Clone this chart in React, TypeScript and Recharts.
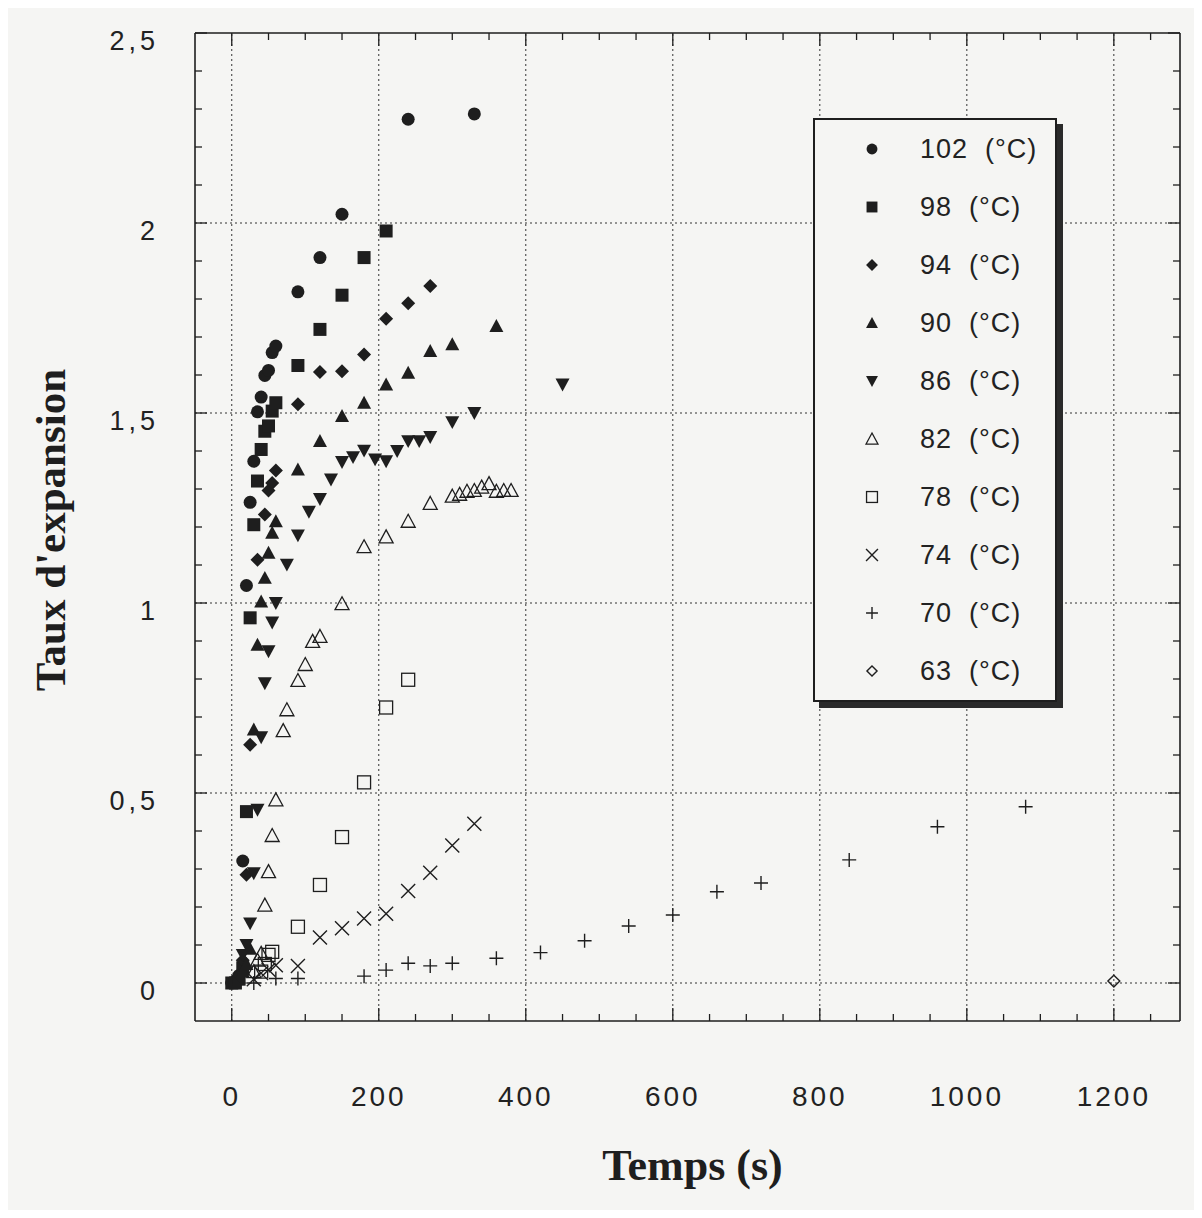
import { ScatterChart, Scatter, XAxis, YAxis, ReferenceLine, Legend, Label } from "recharts";

// Temps (s) and taux d'expansion for each temperature (°C)
const t102 = [0, 5, 10, 15, 20, 25, 30, 35, 40, 45, 50, 55, 60, 90, 120, 150, 240, 330];
const y102 = [0, 0.005, 0.02, 0.321, 1.046, 1.265, 1.373, 1.503, 1.542, 1.599, 1.612, 1.659, 1.676, 1.819, 1.909, 2.023, 2.273, 2.287];

const t98 = [0, 5, 10, 15, 20, 25, 30, 35, 40, 45, 50, 55, 60, 90, 120, 150, 180, 210];
const y98 = [0, 0, 0.01, 0.04, 0.451, 0.961, 1.206, 1.321, 1.404, 1.452, 1.466, 1.505, 1.527, 1.625, 1.72, 1.81, 1.909, 1.979];

const t94 = [10, 15, 20, 25, 35, 45, 50, 55, 60, 90, 120, 150, 180, 210, 240, 270];
const y94 = [0.02, 0.06, 0.285, 0.627, 1.114, 1.233, 1.296, 1.316, 1.349, 1.523, 1.608, 1.61, 1.654, 1.748, 1.789, 1.834];

const t90 = [15, 20, 25, 30, 35, 40, 45, 50, 55, 60, 90, 120, 150, 180, 210, 240, 270, 300, 360];
const y90 = [0.03, 0.05, 0.09, 0.667, 0.89, 1.004, 1.066, 1.132, 1.185, 1.215, 1.351, 1.426, 1.492, 1.527, 1.575, 1.606, 1.663, 1.681, 1.729];

const t86 = [15, 20, 25, 30, 35, 40, 45, 50, 55, 60, 75, 90, 105, 120, 135, 150, 165, 180, 195, 210, 225, 240, 255, 270, 300, 330, 450];
const y86 = [0.074, 0.1, 0.157, 0.289, 0.456, 0.647, 0.789, 0.873, 0.949, 1.0, 1.101, 1.178, 1.24, 1.274, 1.325, 1.371, 1.384, 1.401, 1.378, 1.373, 1.4, 1.426, 1.426, 1.437, 1.476, 1.5, 1.575];

const t82 = [30, 35, 40, 45, 50, 55, 60, 70, 75, 90, 100, 110, 120, 150, 180, 210, 240, 270, 300, 310, 320, 330, 340, 350, 360, 370, 380];
const y82 = [0.03, 0.06, 0.078, 0.205, 0.293, 0.388, 0.482, 0.664, 0.719, 0.796, 0.838, 0.899, 0.912, 0.998, 1.148, 1.174, 1.215, 1.262, 1.281, 1.286, 1.294, 1.296, 1.305, 1.314, 1.294, 1.296, 1.296];

const t78 = [40, 45, 50, 55, 90, 120, 150, 180, 210, 240];
const y78 = [0.03, 0.05, 0.074, 0.082, 0.148, 0.258, 0.384, 0.528, 0.725, 0.798];

const t74 = [30, 40, 50, 60, 90, 120, 150, 180, 210, 240, 270, 300, 330];
const y74 = [0.01, 0.026, 0.035, 0.047, 0.045, 0.12, 0.144, 0.17, 0.182, 0.242, 0.29, 0.362, 0.419];

const t70 = [30, 60, 90, 180, 210, 240, 270, 300, 360, 420, 480, 540, 600, 660, 720, 840, 960, 1080];
const y70 = [0, 0.012, 0.012, 0.018, 0.034, 0.052, 0.045, 0.052, 0.065, 0.08, 0.111, 0.15, 0.179, 0.24, 0.263, 0.324, 0.411, 0.464];

const t63 = [1200];
const y63 = [0.005];

const xTicks = [0, 50, 100, 150, 200, 250, 300, 350, 400, 450, 500, 550, 600, 650, 700, 750, 800, 850, 900, 950, 1000, 1050, 1100, 1150, 1200, 1250];
const xGrid = [0, 200, 400, 600, 800, 1000, 1200];
const yTicks = [0, 0.1, 0.2, 0.3, 0.4, 0.5, 0.6, 0.7, 0.8, 0.9, 1, 1.1, 1.2, 1.3, 1.4, 1.5, 1.6, 1.7, 1.8, 1.9, 2, 2.1, 2.2, 2.3, 2.4, 2.5];
const yGrid = [0, 0.5, 1, 1.5, 2];

const INK = "#1e1e1e";
const BG = "#f5f5f3";
const SANS = "'Liberation Sans', Arial, sans-serif";
const SERIF = "'Liberation Serif', 'Times New Roman', serif";

type Kind = "disc" | "square" | "diamond" | "up" | "down" | "openUp" | "openSquare" | "cross" | "plus" | "openDiamond";

const series: { temp: string; kind: Kind; t: number[]; v: number[] }[] = [
  { temp: "102", kind: "disc", t: t102, v: y102 },
  { temp: "98", kind: "square", t: t98, v: y98 },
  { temp: "94", kind: "diamond", t: t94, v: y94 },
  { temp: "90", kind: "up", t: t90, v: y90 },
  { temp: "86", kind: "down", t: t86, v: y86 },
  { temp: "82", kind: "openUp", t: t82, v: y82 },
  { temp: "78", kind: "openSquare", t: t78, v: y78 },
  { temp: "74", kind: "cross", t: t74, v: y74 },
  { temp: "70", kind: "plus", t: t70, v: y70 },
  { temp: "63", kind: "openDiamond", t: t63, v: y63 },
];

function Marker({ kind, cx, cy, k = 1 }: { kind: Kind; cx: number; cy: number; k?: number }) {
  const s = 7 * k;
  switch (kind) {
    case "disc":
      return <circle cx={cx} cy={cy} r={s - 0.5} fill={INK} />;
    case "square":
      return <rect x={cx - s + 0.5} y={cy - s + 0.5} width={2 * s - 1} height={2 * s - 1} fill={INK} />;
    case "diamond":
      return <polygon points={`${cx},${cy - s} ${cx + s},${cy} ${cx},${cy + s} ${cx - s},${cy}`} fill={INK} />;
    case "up":
      return <polygon points={`${cx},${cy - s} ${cx + s},${cy + s * 0.85} ${cx - s},${cy + s * 0.85}`} fill={INK} />;
    case "down":
      return <polygon points={`${cx - s},${cy - s * 0.85} ${cx + s},${cy - s * 0.85} ${cx},${cy + s}`} fill={INK} />;
    case "openUp":
      return (
        <polygon
          points={`${cx},${cy - s} ${cx + s},${cy + s * 0.85} ${cx - s},${cy + s * 0.85}`}
          fill="none"
          stroke={INK}
          strokeWidth={1.3}
        />
      );
    case "openSquare":
      return <rect x={cx - s + 0.5} y={cy - s + 0.5} width={2 * s - 1} height={2 * s - 1} fill="none" stroke={INK} strokeWidth={1.3} />;
    case "cross":
      return (
        <path d={`M${cx - s},${cy - s}L${cx + s},${cy + s}M${cx - s},${cy + s}L${cx + s},${cy - s}`} stroke={INK} strokeWidth={1.4} />
      );
    case "plus":
      return <path d={`M${cx - s},${cy}L${cx + s},${cy}M${cx},${cy - s}L${cx},${cy + s}`} stroke={INK} strokeWidth={1.4} />;
    case "openDiamond":
      return (
        <polygon
          points={`${cx},${cy - s * 0.85} ${cx + s * 0.85},${cy} ${cx},${cy + s * 0.85} ${cx - s * 0.85},${cy}`}
          fill="none"
          stroke={INK}
          strokeWidth={1.4}
        />
      );
  }
}

const majorX = (v: number) => v % 200 === 0;
const majorY = (v: number) => Math.abs(v * 2 - Math.round(v * 2)) < 1e-6;

function BottomTick({ x, y, payload }: any) {
  const major = majorX(payload.value);
  return (
    <g>
      <line x1={x} x2={x} y1={y} y2={y - (major ? 13 : 7)} stroke={INK} strokeWidth={1.3} />
      {major && (
        <text x={x} y={y + 85} textAnchor="middle" fontFamily={SANS} fontSize={28} letterSpacing={3} fill="#222">
          {payload.value}
        </text>
      )}
    </g>
  );
}

function TopTick({ x, y, payload }: any) {
  const major = majorX(payload.value);
  return <line x1={x} x2={x} y1={y} y2={y + (major ? 13 : 7)} stroke={INK} strokeWidth={1.3} />;
}

function LeftTick({ x, y, payload }: any) {
  const v = payload.value;
  const major = majorY(v);
  return (
    <g>
      <line x1={x} x2={x + (major ? 12 : 7)} y1={y} y2={y} stroke={INK} strokeWidth={1.3} />
      {major && (
        <text x={x - 36} y={y + 17} textAnchor="end" fontFamily={SANS} fontSize={27} letterSpacing={4} fill="#222">
          {String(Number(v.toFixed(1))).replace(".", ",")}
        </text>
      )}
    </g>
  );
}

function RightTick({ x, y, payload }: any) {
  const major = majorY(payload.value);
  return <line x1={x} x2={x - (major ? 12 : 7)} y1={y} y2={y} stroke={INK} strokeWidth={1.3} />;
}

function LegendBox() {
  return (
    <div
      style={{
        width: 240,
        height: 580,
        border: `2px solid ${INK}`,
        background: BG,
        boxShadow: `6px 6px 0 #2a2a2a`,
      }}
    >
      {series.map((s) => (
        <div key={s.temp} style={{ height: 58, position: "relative" }}>
          <svg width={30} height={30} style={{ position: "absolute", left: 42, top: 14 }}>
            <Marker kind={s.kind} cx={15} cy={15} k={0.85} />
          </svg>
          <span
            style={{
              position: "absolute",
              left: 105,
              top: 13,
              fontFamily: SANS,
              fontSize: 27,
              letterSpacing: 1,
              color: "#222",
              whiteSpace: "pre",
              lineHeight: "32px",
            }}
          >
            {`${s.temp}  (°C)`}
          </span>
        </div>
      ))}
    </div>
  );
}

export default function App() {
  return (
    <div style={{ margin: -8, width: 1202, height: 1218, background: BG, position: "relative" }}>
      <ScatterChart width={1202} height={1218} margin={{ top: 32, right: 21, bottom: 0, left: 0 }}>
        <XAxis
          type="number"
          dataKey="t"
          domain={[-50, 1290]}
          allowDataOverflow
          ticks={xTicks}
          interval={0}
          height={197}
          tickSize={0}
          tickMargin={0}
          tickLine={false}
          axisLine={{ stroke: INK, strokeWidth: 1.6 }}
          tick={BottomTick}
        >
          <Label
            content={({ viewBox }: any) => (
              <text
                x={viewBox ? viewBox.x + viewBox.width / 2 + 5 : 692}
                y={1180}
                textAnchor="middle"
                fontFamily={SERIF}
                fontWeight="bold"
                fontSize={44}
                fill={INK}
              >
                Temps (s)
              </text>
            )}
          />
        </XAxis>
        <XAxis
          xAxisId="top"
          orientation="top"
          type="number"
          dataKey="t"
          domain={[-50, 1290]}
          allowDataOverflow
          ticks={xTicks}
          interval={0}
          height={1}
          tickSize={0}
          tickMargin={0}
          tickLine={false}
          axisLine={{ stroke: INK, strokeWidth: 1.6 }}
          tick={TopTick}
        />
        <YAxis
          type="number"
          dataKey="y"
          domain={[-0.1, 2.5]}
          allowDataOverflow
          ticks={yTicks}
          interval={0}
          width={195}
          tickSize={0}
          tickMargin={0}
          tickLine={false}
          axisLine={{ stroke: INK, strokeWidth: 1.6 }}
          tick={LeftTick}
        >
          <Label
            content={({ viewBox }: any) => {
              const cy = viewBox ? viewBox.y + viewBox.height / 2 + 3 : 530;
              return (
                <text
                  x={65}
                  y={cy}
                  transform={`rotate(-90, 65, ${cy})`}
                  textAnchor="middle"
                  fontFamily={SERIF}
                  fontWeight="bold"
                  fontSize={43}
                  fill={INK}
                >
                  Taux d'expansion
                </text>
              );
            }}
          />
        </YAxis>
        <YAxis
          yAxisId="right"
          orientation="right"
          type="number"
          dataKey="y"
          domain={[-0.1, 2.5]}
          allowDataOverflow
          ticks={yTicks}
          interval={0}
          width={1}
          tickSize={0}
          tickMargin={0}
          tickLine={false}
          axisLine={{ stroke: INK, strokeWidth: 1.6 }}
          tick={RightTick}
        />
        {xGrid.map((v) => (
          <ReferenceLine key={`gx${v}`} x={v} stroke="#333" strokeWidth={1} strokeDasharray="2 3" />
        ))}
        {yGrid.map((v) => (
          <ReferenceLine key={`gy${v}`} y={v} stroke="#333" strokeWidth={1} strokeDasharray="2 3" />
        ))}
        {series.map((s) => (
          <Scatter
            key={s.temp}
            name={`${s.temp} (°C)`}
            data={s.t.map((t, i) => ({ t, y: s.v[i] }))}
            isAnimationActive={false}
            shape={(p: any) => <Marker kind={s.kind} cx={p.cx} cy={p.cy} />}
          />
        ))}
        <Legend
          layout="vertical"
          align="center"
          verticalAlign="middle"
          content={() => <LegendBox />}
          wrapperStyle={{ left: 813, top: 118, width: 250, height: 590 }}
        />
      </ScatterChart>
    </div>
  );
}
